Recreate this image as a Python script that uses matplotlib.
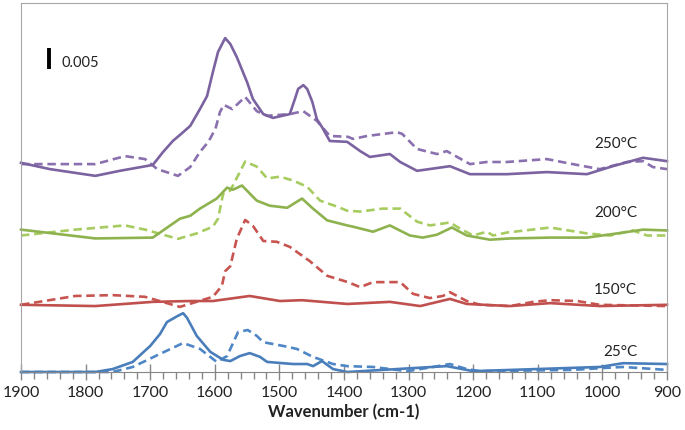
import matplotlib
matplotlib.use('Agg')
import matplotlib.pyplot as plt
from matplotlib.ticker import MultipleLocator

plt.rcParams['font.family'] = ['Lato', 'DejaVu Sans']

# wavenumbers (cm-1) and absorbance, relative to each trace's own baseline
w_250_s = [1900, 1855, 1785, 1747, 1696, 1680, 1665, 1649, 1638, 1623, 1612, 1603, 1595, 1584, 1576, 1566,
           1550, 1541, 1525, 1510, 1484, 1476, 1471, 1463, 1457, 1449, 1442, 1434, 1422, 1395, 1375, 1360,
           1329, 1313, 1287, 1236, 1205, 1148, 1086, 1024, 984, 937, 900]
a_250_s = [-0.0002, -0.0017, -0.0033, -0.0021, -0.0007, 0.0024, 0.0050, 0.0071, 0.0086, 0.0126, 0.0157,
           0.0214, 0.0262, 0.0295, 0.0281, 0.0250, 0.0190, 0.0150, 0.0114, 0.0105, 0.0114, 0.0150, 0.0174,
           0.0183, 0.0174, 0.0143, 0.0102, 0.0083, 0.0050, 0.0048, 0.0026, 0.0012, 0.0019, 0.0000, -0.0021,
           -0.0010, -0.0029, -0.0029, -0.0024, -0.0029, -0.0010, 0.0010, 0.0002]
w_250_d = [1900, 1785, 1739, 1708, 1689, 1657, 1638, 1623, 1610, 1599, 1592, 1586, 1573, 1553, 1535, 1519,
           1484, 1463, 1442, 1422, 1394, 1386, 1364, 1318, 1310, 1287, 1256, 1241, 1205, 1179, 1148, 1086,
           1046, 1004, 962, 937, 922, 900]
a_250_d = [-0.0005, -0.0005, 0.0014, 0.0007, -0.0017, -0.0033, -0.0012, 0.0024, 0.0048, 0.0079, 0.0119,
           0.0136, 0.0126, 0.0155, 0.0121, 0.0110, 0.0114, 0.0121, 0.0098, 0.0062, 0.0060, 0.0055, 0.0062,
           0.0071, 0.0067, 0.0031, 0.0019, 0.0026, -0.0005, 0.0000, 0.0000, 0.0007, -0.0005, -0.0017,
           0.0000, 0.0002, -0.0012, -0.0017]

w_200_s = [1900, 1785, 1696, 1654, 1638, 1623, 1597, 1581, 1572, 1558, 1535, 1515, 1488, 1465, 1448, 1426,
           1395, 1386, 1355, 1329, 1298, 1278, 1256, 1233, 1210, 1174, 1143, 1081, 1024, 977, 937, 900]
a_200_s = [0.0008, -0.0013, -0.0011, 0.0034, 0.0041, 0.0058, 0.0082, 0.0108, 0.0103, 0.0113, 0.0077,
           0.0065, 0.0060, 0.0082, 0.0058, 0.0030, 0.0018, 0.0015, 0.0003, 0.0018, -0.0006, -0.0011,
           -0.0004, 0.0013, -0.0006, -0.0016, -0.0013, -0.0011, -0.0011, -0.0001, 0.0008, 0.0006]
w_200_d = [1900, 1816, 1739, 1708, 1657, 1628, 1603, 1595, 1587, 1576, 1553, 1535, 1519, 1499, 1479, 1457,
           1437, 1411, 1395, 1375, 1340, 1313, 1287, 1267, 1236, 1220, 1200, 1179, 1169, 1148, 1081, 1024,
           988, 953, 931, 900]
a_200_d = [-0.0006, 0.0008, 0.0018, 0.0008, -0.0014, -0.0001, 0.0015, 0.0034, 0.0094, 0.0101, 0.0170,
           0.0158, 0.0130, 0.0134, 0.0125, 0.0110, 0.0077, 0.0063, 0.0053, 0.0051, 0.0058, 0.0058, 0.0027,
           0.0018, 0.0025, 0.0010, -0.0006, 0.0003, -0.0006, 0.0001, 0.0013, -0.0001, -0.0006, 0.0006,
           -0.0006, -0.0006]

w_150_s = [1900, 1785, 1696, 1638, 1603, 1546, 1499, 1465, 1395, 1329, 1282, 1236, 1210, 1143, 1081, 1004, 900]
a_150_s = [0.0000, -0.0003, 0.0007, 0.0009, 0.0009, 0.0021, 0.0009, 0.0011, 0.0002, 0.0007, -0.0003,
           0.0014, 0.0002, -0.0003, 0.0004, -0.0003, 0.0000]
w_150_d = [1900, 1816, 1758, 1708, 1654, 1603, 1589, 1584, 1576, 1566, 1553, 1541, 1525, 1504, 1484, 1453,
           1426, 1394, 1375, 1355, 1313, 1293, 1267, 1247, 1236, 1210, 1189, 1143, 1107, 1081, 1039, 1004, 900]
a_150_d = [0.0000, 0.0021, 0.0023, 0.0019, -0.0005, 0.0019, 0.0045, 0.0080, 0.0092, 0.0157, 0.0202,
           0.0188, 0.0152, 0.0150, 0.0138, 0.0104, 0.0069, 0.0054, 0.0042, 0.0054, 0.0054, 0.0026, 0.0016,
           0.0021, 0.0030, 0.0009, 0.0000, -0.0003, 0.0007, 0.0011, 0.0009, 0.0000, -0.0003]

w_25_s = [1900, 1785, 1758, 1727, 1700, 1685, 1674, 1658, 1649, 1643, 1628, 1607, 1587, 1576, 1561, 1546,
          1530, 1519, 1479, 1457, 1448, 1434, 1417, 1395, 1241, 1200, 1004, 968, 900]
a_25_s = [0.0000, 0.0000, 0.0007, 0.0024, 0.0062, 0.0090, 0.0119, 0.0133, 0.0140, 0.0129, 0.0086, 0.0048,
          0.0029, 0.0026, 0.0038, 0.0045, 0.0036, 0.0024, 0.0019, 0.0019, 0.0014, 0.0026, 0.0007, 0.0000,
          0.0014, 0.0002, 0.0012, 0.0021, 0.0019]
w_25_d = [1900, 1758, 1727, 1685, 1649, 1623, 1597, 1581, 1564, 1549, 1535, 1525, 1494, 1473, 1448, 1417,
          1395, 1355, 1302, 1262, 1236, 1210, 1189, 1046, 993, 968, 900]
a_25_d = [0.0000, 0.0000, 0.0012, 0.0043, 0.0069, 0.0055, 0.0024, 0.0038, 0.0095, 0.0100, 0.0086, 0.0071,
          0.0062, 0.0055, 0.0036, 0.0019, 0.0014, 0.0012, 0.0002, 0.0012, 0.0019, 0.0007, 0.0002, 0.0005,
          0.0010, 0.0012, 0.0005]

temps = ['250°C', '200°C', '150°C', '25°C']
offsets = [0.0500, 0.0331, 0.0160, 0.0000]
colors_solid = ['#7B62A0', '#8DB24E', '#C0504D', '#4A7EBB']
colors_dash = ['#8A70AE', '#A6CC60', '#C8544F', '#4F86C6']
label_y = [0.0545, 0.0381, 0.0198, 0.0050]

solid = [(w_250_s, a_250_s), (w_200_s, a_200_s), (w_150_s, a_150_s), (w_25_s, a_25_s)]
dashed = [(w_250_d, a_250_d), (w_200_d, a_200_d), (w_150_d, a_150_d), (w_25_d, a_25_d)]

fig = plt.figure(figsize=(6.85, 4.31), dpi=100)
ax = fig.add_axes([21 / 685, 1 - 373 / 431, 646 / 685, 369 / 431])

for i in range(4):
    ws, vs = solid[i]
    wd, vd = dashed[i]
    ax.plot(wd, [v + offsets[i] for v in vd], color=colors_dash[i], lw=1.9,
            dashes=(3.2, 1.8), clip_on=False, solid_joinstyle='round')
    ax.plot(ws, [v + offsets[i] for v in vs], color=colors_solid[i], lw=1.9, clip_on=False,
            solid_joinstyle='round')
    ax.text(946, label_y[i], temps[i], ha='right', va='center', fontsize=11, color='#222222')

# scale bar
ax.plot([1857, 1857], [0.0721, 0.0771], color='black', lw=2.8, solid_capstyle='butt')
ax.text(1838, 0.0737, '0.005', ha='left', va='center', fontsize=10.5, color='#222222')

ax.set_xlim(1900, 900)
ax.set_ylim(0, 369 / 4200)
ax.xaxis.set_major_locator(MultipleLocator(100))
ax.xaxis.set_minor_locator(MultipleLocator(20))
ax.tick_params(axis='x', which='major', direction='inout', length=11, width=1, color='#868686',
               labelsize=11.5, pad=4, labelcolor='#222222')
ax.tick_params(axis='x', which='minor', direction='out', length=5, width=1, color='#868686')
ax.set_yticks([])
for s in ['top', 'left', 'right']:
    ax.spines[s].set_color('#A6A6A6')
ax.spines['bottom'].set_color('#868686')
ax.set_xlabel('Wavenumber (cm-1)', fontsize=12, fontweight='bold', labelpad=3, color='#222222')

plt.savefig('out.png', dpi=100)
